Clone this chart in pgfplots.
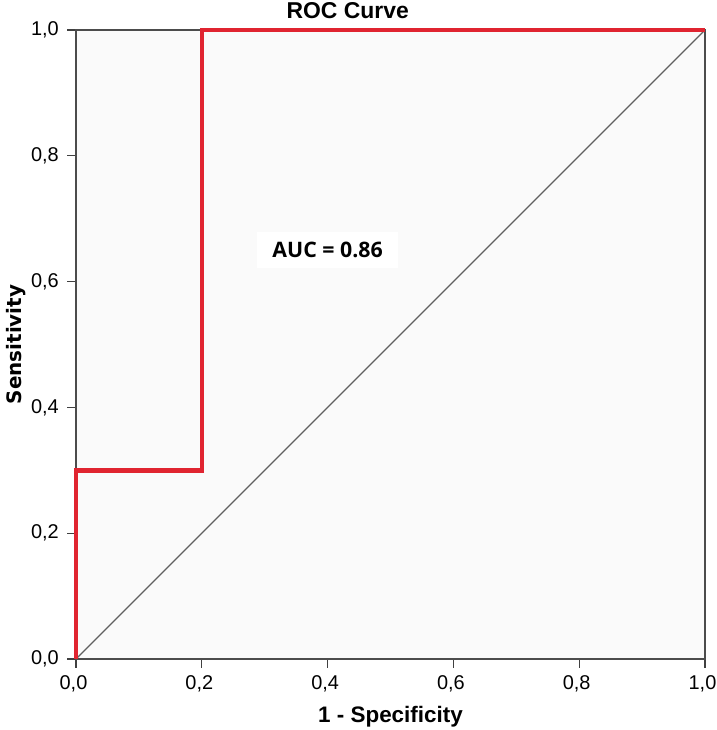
\documentclass[border=0pt]{standalone}
\usepackage{pgfplots}
\pgfplotsset{compat=1.18}
\usepackage{fontspec}
\setmainfont{Liberation Sans}
\newfontfamily\labfont{DejaVu Sans}
\newfontfamily\aucfont{Open Sans}

\definecolor{roc}{RGB}{224,36,48}
\definecolor{refline}{RGB}{95,95,95}
\definecolor{plotbg}{RGB}{250,250,250}

\begin{document}
\begin{tikzpicture}
\begin{axis}[
    at={(0,0)}, anchor=south west,
    scale only axis,
    width=629bp, height=629bp,
    xmin=0, xmax=1, ymin=0, ymax=1,
    xtick={0,0.2,...,1}, ytick={0,0.2,...,1},
    xtick pos=bottom, ytick pos=left,
    /pgf/number format/.cd, fixed, fixed zerofill, precision=1, use comma, assume math mode=true,
    /pgfplots/.cd,
    tick align=outside,
    major tick length=9bp,
    tick style={black!75, line width=1.3bp},
    axis line style={black!70, line width=1.3bp},
    axis background/.style={fill=plotbg},
    tick label style={font=\fontsize{20}{20}\selectfont},
    xticklabel style={inner sep=0pt, yshift=-7bp, xshift=-2.5bp},
    yticklabel style={inner sep=0pt, xshift=-8bp},
    xlabel={1 - Specificity},
    ylabel={Sensitivity},
    xlabel style={font=\bfseries\fontsize{22.5}{22.5}\selectfont, at={(axis description cs:0.5,0)}, anchor=base, yshift=-63bp},
    ylabel style={font=\labfont\bfseries\fontsize{20}{20}\selectfont, at={(axis description cs:0,0.5)}, anchor=center, yshift=60bp},
    title={ROC Curve},
    title style={font=\bfseries\fontsize{23}{23}\selectfont, at={(axis description cs:0.432,1)}, anchor=base, yshift=6bp},
    clip=false,
]
\addplot[refline, line width=1.3bp] coordinates {(0,0) (1,1)};
\addplot[roc, line width=4.5bp, line join=miter] coordinates {
    (0,0) (0,0.3) (0.2,0.3) (0.2,1) (1,1)
};
\node[fill=white, inner xsep=15bp, inner ysep=10bp, font=\aucfont\bfseries\fontsize{21.4}{21.4}\selectfont]
    at (axis cs:0.4,0.65) {AUC = 0.86};
\end{axis}
\pgfresetboundingbox
\path (-76bp,-71bp) rectangle (641bp,659bp);
\end{tikzpicture}
\end{document}
